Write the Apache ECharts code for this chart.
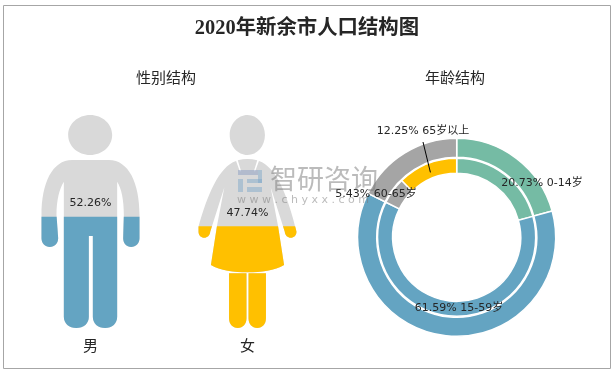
<!DOCTYPE html>
<html><head><meta charset="utf-8">
<style>html,body{margin:0;padding:0;background:#fff}#c{width:615px;height:375px}</style>
<script src="https://cdn.jsdelivr.net/npm/echarts@6/dist/echarts.min.js"></script></head>
<body><div id="c"></div><script>
const genderCats=['男','女'];
const genderVals=[52.26,47.74];
const ageInner=['0-14岁','15-59岁','60-65岁','65岁以上'];
const ageInnerVals=[20.73,61.59,5.43,12.25];
const ageOuterVals=[20.73,61.59,17.68];
const malePath='path://M209 45C172 45 143 72 143 105C143 138 172 165 209 165C246 165 275 138 275 105C275 72 246 45 209 45ZM155 180C95 180 63 250 63 345L63 415C63 430 74 441 88 441C102 441 113 430 113 415L108 345C108 300 117 265 130 245L130 650C130 670 146 684 167 684C190 684 205 670 205 650L205 408L217 408L217 650C217 670 232 684 254 684C275 684 290 670 290 650L290 245C303 265 310 300 310 345L308 415C308 430 318 441 332 441C346 441 357 430 357 415L357 345C357 250 325 180 265 180Z';
const femalePath='path://M681 45C652 45 628 72 628 105C628 138 652 165 681 165C710 165 733 138 733 105C733 72 710 45 681 45ZM647 183C595 200 560 290 535 380L535 395C535 406 543 413 552 413C561 413 569 406 570 395L612 262L590 378L572 495C600 512 640 517 681 517C722 517 762 512 790 495L772 378L750 262L792 395C793 406 801 413 810 413C819 413 827 406 827 395C802 290 767 200 715 183L704 214L700 214L710 181C690 176 672 176 652 181L662 214L658 214ZM626 520L626 655C626 672 636 684 652 684C668 684 678 672 678 655L678 520ZM684 520L684 655C684 672 694 684 710 684C726 684 736 672 736 655L736 520Z';
const cBlue='#64A4C2',cYellow='#FFC000',cGreen='#75BBA4',cGrey='#A5A5A5',cLight='#D9D9D9';
const font='"DejaVu Sans","Noto Sans CJK SC",sans-serif';
const labelPos=[[542,183],[459,308],[376,194],[423,131]];
const pieCenter=[456.7,237.3];
const midAngle=(1-ageInnerVals[3]/2/100)*2*Math.PI;
const leaderStart=[pieCenter[0]+70*Math.sin(midAngle),pieCenter[1]-70*Math.cos(midAngle)];
const chart=echarts.init(document.getElementById('c'),null,{renderer:'canvas'});
chart.setOption({
 animation:false,
 backgroundColor:'#fff',
 grid:{left:12,width:314,top:115,height:213},
 xAxis:{type:'category',data:genderCats,axisLine:{show:false},axisTick:{show:false},
  axisLabel:{fontSize:15,color:'#262626',margin:10,fontFamily:'"Noto Sans CJK SC"'}},
 yAxis:{type:'value',min:0,max:100,show:false,splitLine:{show:false}},
 series:[
  {type:'pictorialBar',barGap:'-100%',symbolSize:[98,'100%'],symbolPosition:'start',silent:true,z:2,
   data:[{value:100,symbol:malePath},{value:100,symbol:femalePath}],itemStyle:{color:cLight}},
  {type:'pictorialBar',barGap:'-100%',symbolSize:[98,213],symbolBoundingData:100,symbolClip:true,symbolPosition:'start',z:3,
   data:[{value:genderVals[0],symbol:malePath,itemStyle:{color:cBlue}},{value:genderVals[1],symbol:femalePath,itemStyle:{color:cYellow}}]},
  {type:'bar',barGap:'-100%',barWidth:40,z:4,silent:true,data:genderVals,itemStyle:{color:'rgba(0,0,0,0)'},
   label:{show:true,position:'top',distance:8,formatter:p=>p.value.toFixed(2)+'%',fontSize:11,color:'#262626',fontFamily:font}},
  {type:'pie',center:pieCenter,radius:[80,99],startAngle:90,clockwise:true,silent:true,label:{show:false},labelLine:{show:false},
   itemStyle:{borderColor:'#fff',borderWidth:1.5},
   data:[{value:ageOuterVals[0],itemStyle:{color:cGreen}},{value:ageOuterVals[1],itemStyle:{color:cBlue}},{value:ageOuterVals[2],itemStyle:{color:cGrey}}]},
  {type:'pie',center:pieCenter,radius:[64,79],startAngle:90,clockwise:true,silent:true,
   itemStyle:{borderColor:'#fff',borderWidth:1.5},
   label:{show:true,position:'outside',overflow:'none',fontSize:11,color:'#262626',fontFamily:font,
     formatter:p=>p.value.toFixed(2)+'% '+p.name},
   labelLine:{show:false},
   labelLayout:p=>{const q=labelPos[p.dataIndex];return {x:q[0],y:q[1],align:'center',verticalAlign:'middle'};},
   data:[{name:ageInner[0],value:ageInnerVals[0],itemStyle:{color:cGreen}},
         {name:ageInner[1],value:ageInnerVals[1],itemStyle:{color:cBlue}},
         {name:ageInner[2],value:ageInnerVals[2],itemStyle:{color:cGrey}},
         {name:ageInner[3],value:ageInnerVals[3],itemStyle:{color:cYellow}}]}
 ],
 graphic:[
  {type:'rect',shape:{x:3.5,y:5.5,width:607,height:363},style:{fill:'none',stroke:'#A6A6A6',lineWidth:1},z:0,silent:true},
  {type:'text',x:307,y:29,style:{text:'2020年新余市人口结构图',font:'bold 20.4px "Liberation Serif","Noto Sans CJK SC"',fill:'#262626',align:'center',verticalAlign:'middle'},z:10},
  {type:'text',x:166,y:77,style:{text:'性别结构',font:'15px "Noto Sans CJK SC"',fill:'#262626',align:'center',verticalAlign:'middle'},z:10},
  {type:'text',x:455,y:77,style:{text:'年龄结构',font:'15px "Noto Sans CJK SC"',fill:'#262626',align:'center',verticalAlign:'middle'},z:10},
  {type:'line',shape:{x1:423,y1:142,x2:leaderStart[0],y2:leaderStart[1]},style:{stroke:'#000',lineWidth:1},z:20},
  {type:'text',x:270,y:179,style:{text:'智研咨询',font:'27px "Noto Sans CJK SC"',fill:'rgba(120,120,120,0.5)',align:'left',verticalAlign:'middle'},z:10},
  {type:'text',x:237,y:200,style:{text:'w w w . c h y x x . c o m',font:'11px "DejaVu Sans"',fill:'rgba(120,120,120,0.5)',align:'left',verticalAlign:'middle'},z:10},
  {type:'rect',shape:{x:238,y:170,width:20,height:5},style:{fill:'rgba(130,150,190,0.45)'},z:10},
  {type:'rect',shape:{x:238,y:179,width:5,height:13},style:{fill:'rgba(120,165,200,0.45)'},z:10},
  {type:'rect',shape:{x:247,y:179,width:15,height:4},style:{fill:'rgba(120,165,200,0.45)'},z:10},
  {type:'rect',shape:{x:247,y:187,width:15,height:5},style:{fill:'rgba(120,165,200,0.45)'},z:10},
  {type:'rect',shape:{x:258,y:170,width:4,height:13},style:{fill:'rgba(120,165,200,0.45)'},z:10}
 ]
});
</script></body></html>
